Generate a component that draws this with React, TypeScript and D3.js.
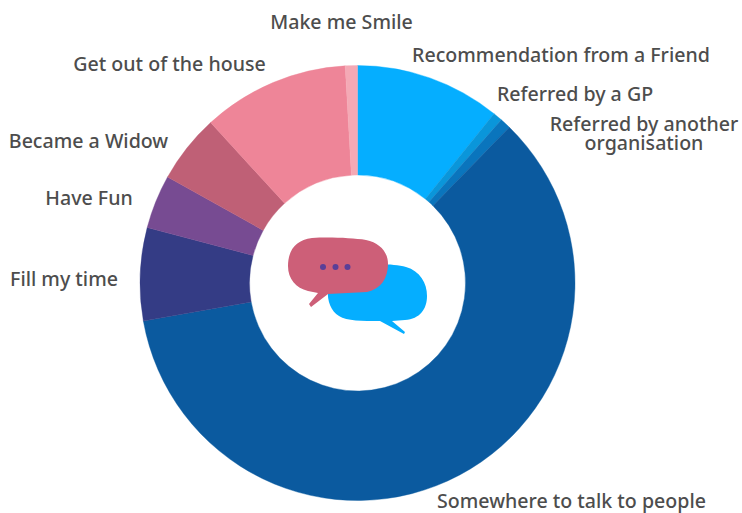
import React, { useMemo } from "react";
import * as d3 from "d3";

const categories = [
  "Recommendation from a Friend",
  "Referred by a GP",
  "Referred by another organisation",
  "Somewhere to talk to people",
  "Fill my time",
  "Have Fun",
  "Became a Widow",
  "Get out of the house",
  "Make me Smile",
];
const shares = [10.8, 0.7, 0.8, 59.9, 6.9, 4.0, 5.1, 10.9, 0.9];
const sliceColors = ["#05aeff", "#0a96da", "#0a75bd", "#0b5a9f", "#343c85", "#774b92", "#bf6076", "#ee8598", "#f4a9b5"];

const WIDTH = 742;
const HEIGHT = 513;
const CX = 357.5;
const CY = 283;
const OUTER = 217.5;
const INNER = 108;

// Label anchors, one line per row of text, keyed by category.
const labelRows: Record<string, { x: number; y: number; text: string }[]> = {
  "Recommendation from a Friend": [{ x: 561, y: 62, text: "Recommendation from a Friend" }],
  "Referred by a GP": [{ x: 575, y: 101, text: "Referred by a GP" }],
  "Referred by another organisation": [
    { x: 644, y: 131, text: "Referred by another" },
    { x: 644, y: 150, text: "organisation" },
  ],
  "Somewhere to talk to people": [{ x: 571.5, y: 508, text: "Somewhere to talk to people" }],
  "Fill my time": [{ x: 64, y: 286, text: "Fill my time" }],
  "Have Fun": [{ x: 89, y: 205, text: "Have Fun" }],
  "Became a Widow": [{ x: 88.5, y: 148, text: "Became a Widow" }],
  "Get out of the house": [{ x: 169.5, y: 71, text: "Get out of the house" }],
  "Make me Smile": [{ x: 341.5, y: 29, text: "Make me Smile" }],
};

export default function App() {
  const slices = useMemo(() => {
    const pie = d3.pie<number>().sort(null).value((d) => d);
    const arc = d3.arc<d3.PieArcDatum<number>>().innerRadius(INNER).outerRadius(OUTER);
    return pie(shares).map((p, i) => ({ d: arc(p) as string, fill: sliceColors[i], name: categories[i] }));
  }, []);

  return (
    <svg width={WIDTH} height={HEIGHT} style={{ position: "absolute", left: 0, top: 0, background: "#fff" }}>
      <g transform={`translate(${CX},${CY})`}>
        {slices.map((s) => (
          <path key={s.name} d={s.d} fill={s.fill} stroke={s.fill} strokeWidth={0.4} />
        ))}
      </g>

      {/* Two overlapping speech bubbles in the hole of the ring */}
      <g>
        <path
          d="M352 266 C368 264 392 263 406 267 C420 271 427 283 427 296 C427 309 420 319 405 320 L392 321 L405 332 L404 334 L380 321 C362 321 347 321 339 316 C331 311 327 301 328 290 Z"
          fill="#05aeff"
        />
        <path
          d="M312 238 C330 237 352 238 366 240 C380 243 388 252 388 264 C388 278 381 289 367 292 L328 294 L311 307 L309 304 L318 293 L308 291 C296 288 288 279 288 266 C288 250 296 240 312 238 Z"
          fill="#cd5f78"
        />
        {[323, 335.5, 347.5].map((x) => (
          <circle key={x} cx={x} cy={267} r={3} fill="#5a3f98" />
        ))}
      </g>

      <g fontFamily="'Noto Sans', sans-serif" fontSize={19.6} fontWeight={500} fill="#4d4d4d" textAnchor="middle">
        {categories.flatMap((c) =>
          labelRows[c].map((r) => (
            <text key={r.text} x={r.x} y={r.y}>
              {r.text}
            </text>
          ))
        )}
      </g>
    </svg>
  );
}
